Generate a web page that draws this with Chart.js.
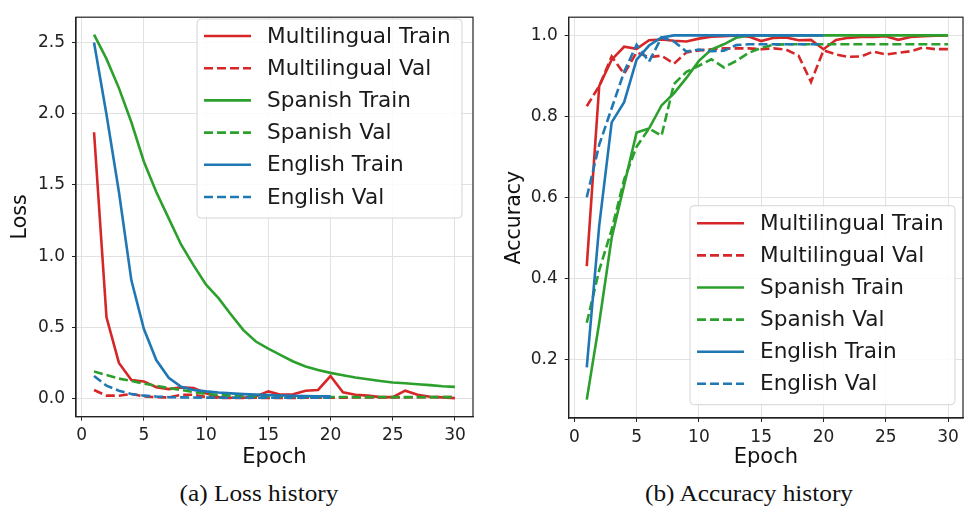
<!DOCTYPE html>
<html>
<head>
<meta charset="utf-8">
<script src="https://cdn.jsdelivr.net/npm/chart.js@4.4.1/dist/chart.umd.min.js"></script>
<style>
  body { margin: 0; background: #fff; width: 965px; height: 513px; overflow: hidden; position: relative; }
  .box { position: absolute; top: 0; height: 470px; }
  .caption { position: absolute; top: 481px; font-family: 'Liberation Serif', serif; font-size: 23px; color: #111; transform: translateX(-50%) scaleX(1.1); white-space: nowrap; }
</style>
</head>
<body>
<div class="box" style="left:0; width:480px;"><canvas id="lossChart"></canvas></div>
<div class="box" style="left:490px; width:475px;"><canvas id="accChart"></canvas></div>
<div class="caption" style="left:259px;">(a) Loss history</div>
<div class="caption" style="left:749px;">(b) Accuracy history</div>
<script>
// epochs
const epochs30 = [1, 2, 3, 4, 5, 6, 7, 8, 9, 10, 11, 12, 13, 14, 15, 16, 17, 18, 19, 20, 21, 22, 23, 24, 25, 26, 27, 28, 29, 30];
const epochs20 = [1, 2, 3, 4, 5, 6, 7, 8, 9, 10, 11, 12, 13, 14, 15, 16, 17, 18, 19, 20];
const xTicks = [0, 5, 10, 15, 20, 25, 30];
const lossTicks = [0, 0.5, 1.0, 1.5, 2.0, 2.5];
const accTicks = [0.2, 0.4, 0.6, 0.8, 1.0];
const seriesNames = ['Multilingual Train', 'Multilingual Val', 'Spanish Train', 'Spanish Val', 'English Train', 'English Val'];

// loss history
const lossMultiTrain = [1.87, 0.57, 0.25, 0.13, 0.12, 0.08, 0.066, 0.078, 0.073, 0.037, 0.01, 0.005, 0.005, 0.014, 0.05, 0.027, 0.03, 0.055, 0.06, 0.158, 0.043, 0.027, 0.02, 0.01, 0.01, 0.055, 0.027, 0.012, 0.008, 0.003];
const lossMultiVal = [0.06, 0.02, 0.02, 0.032, 0.014, 0.009, 0.008, 0.025, 0.027, 0.01, 0.005, 0.004, 0.004, 0.005, 0.004, 0.005, 0.004, 0.005, 0.005, 0.006, 0.006, 0.007, 0.007, 0.008, 0.008, 0.008, 0.009, 0.009, 0.01, 0.01];
const lossSpanishTrain = [2.555, 2.385, 2.18, 1.94, 1.665, 1.45, 1.265, 1.08, 0.935, 0.8, 0.705, 0.59, 0.48, 0.4, 0.35, 0.305, 0.26, 0.225, 0.2, 0.18, 0.163, 0.147, 0.135, 0.123, 0.112, 0.107, 0.1, 0.094, 0.086, 0.082];
const lossSpanishVal = [0.19, 0.165, 0.14, 0.123, 0.105, 0.09, 0.073, 0.06, 0.045, 0.033, 0.025, 0.02, 0.017, 0.015, 0.014, 0.013, 0.012, 0.012, 0.011, 0.011, 0.011, 0.01, 0.01, 0.01, 0.01, 0.01, 0.01, 0.01, 0.01, 0.01];
const lossEnglishTrain = [2.5, 1.995, 1.45, 0.83, 0.49, 0.27, 0.146, 0.082, 0.06, 0.05, 0.042, 0.036, 0.031, 0.027, 0.024, 0.021, 0.019, 0.017, 0.016, 0.015];
const lossEnglishVal = [0.158, 0.09, 0.055, 0.032, 0.02, 0.014, 0.01, 0.008, 0.007, 0.006, 0.006, 0.005, 0.005, 0.005, 0.005, 0.005, 0.005, 0.005, 0.005, 0.005];

// accuracy history
const accMultiTrain = [0.43, 0.875, 0.94, 0.972, 0.967, 0.988, 0.99, 0.987, 0.985, 0.992, 0.997, 0.998, 1.0, 0.997, 0.986, 0.994, 0.995, 0.988, 0.989, 0.966, 0.989, 0.994, 0.996, 0.996, 0.998, 0.989, 0.996, 0.998, 0.999, 1.0];
const accMultiVal = [0.825, 0.875, 0.948, 0.905, 0.958, 0.946, 0.95, 0.93, 0.958, 0.963, 0.966, 0.968, 0.968, 0.968, 0.966, 0.968, 0.965, 0.95, 0.885, 0.963, 0.953, 0.947, 0.948, 0.96, 0.953, 0.957, 0.961, 0.97, 0.966, 0.966];
const accSpanishTrain = [0.1, 0.29, 0.5, 0.63, 0.76, 0.77, 0.827, 0.857, 0.895, 0.937, 0.965, 0.978, 0.994, 1.0, 1.0, 1.0, 1.0, 1.0, 1.0, 1.0, 1.0, 1.0, 1.0, 1.0, 1.0, 1.0, 1.0, 1.0, 1.0, 1.0];
const accSpanishVal = [0.29, 0.42, 0.52, 0.644, 0.725, 0.77, 0.752, 0.88, 0.91, 0.925, 0.941, 0.921, 0.937, 0.957, 0.969, 0.977, 0.978, 0.978, 0.978, 0.978, 0.978, 0.978, 0.978, 0.978, 0.978, 0.978, 0.978, 0.978, 0.978, 0.978];
const accEnglishTrain = [0.18, 0.53, 0.785, 0.835, 0.94, 0.975, 0.995, 1.0, 1.0, 1.0, 1.0, 1.0, 1.0, 1.0, 1.0, 1.0, 1.0, 1.0, 1.0, 1.0];
const accEnglishVal = [0.6, 0.73, 0.82, 0.91, 0.977, 0.935, 0.995, 0.985, 0.96, 0.965, 0.961, 0.962, 0.976, 0.978, 0.978, 0.978, 0.978, 0.978, 0.978, 0.978];

const RED = '#d62728', GREEN = '#2ca02c', BLUE = '#1f77b4';
const colors = [RED, RED, GREEN, GREEN, BLUE, BLUE];

Chart.defaults.font.family = "'DejaVu Sans', sans-serif";
Chart.defaults.color = '#222';
Chart.defaults.animation = false;

function pts(xs, ys) {
    return ys.map((y, i) => ({ x: xs[i], y: y }));
}

function makeDatasets(series) {
    return series.map((s, i) => ({
        label: seriesNames[i],
        data: pts(s.length === 30 ? epochs30 : epochs20, s),
        borderColor: colors[i],
        backgroundColor: colors[i],
        borderWidth: 2.6,
        borderDash: i % 2 === 1 ? [9, 4] : [],
        pointRadius: 0,
        tension: 0,
        fill: false,
        order: 5 - i
    }));
}

// frame around the plot area (like matplotlib spines)
const framePlugin = {
    id: 'frame',
    afterDatasetsDraw(chart) {
        const a = chart.chartArea, ctx = chart.ctx;
        ctx.save();
        ctx.strokeStyle = '#222';
        ctx.lineWidth = 1.2;
        ctx.strokeRect(a.left, a.top, a.right - a.left, a.bottom - a.top);
        ctx.restore();
    }
};

// legend box drawn inside the axes
const boxLegend = {
    id: 'boxLegend',
    afterDraw(chart, args, opts) {
        const ctx = chart.ctx;
        ctx.save();
        ctx.beginPath();
        ctx.roundRect(opts.x, opts.y, opts.w, opts.h, 4);
        ctx.fillStyle = 'rgba(255,255,255,0.85)';
        ctx.fill();
        ctx.strokeStyle = '#d4d4d4';
        ctx.lineWidth = 1;
        ctx.stroke();
        chart.data.datasets.forEach((ds, i) => {
            const y = opts.y + opts.first + i * opts.step;
            ctx.beginPath();
            ctx.setLineDash(ds.borderDash);
            ctx.strokeStyle = ds.borderColor;
            ctx.lineWidth = ds.borderWidth;
            ctx.moveTo(opts.x + 7, y);
            ctx.lineTo(opts.x + 54, y);
            ctx.stroke();
            ctx.setLineDash([]);
            ctx.fillStyle = '#1a1a1a';
            ctx.font = "21.6px 'DejaVu Sans'";
            ctx.textBaseline = 'middle';
            ctx.fillText(ds.label, opts.x + 70, y + 1);
        });
        ctx.restore();
    }
};

function makeChart(id, series, cfg) {
    return new Chart(document.getElementById(id), {
        type: 'line',
        data: { datasets: makeDatasets(series) },
        plugins: [framePlugin, boxLegend],
        options: {
            responsive: true,
            maintainAspectRatio: false,
            layout: { padding: { top: 7, right: cfg.padRight, left: 0, bottom: 0 } },
            plugins: {
                legend: { display: false },
                tooltip: { enabled: false },
                boxLegend: cfg.legend
            },
            scales: {
                x: {
                    type: 'linear',
                    min: -0.45,
                    max: cfg.xMax,
                    afterBuildTicks: axis => { axis.ticks = xTicks.map(v => ({ value: v })); },
                    afterFit: axis => { axis.height = cfg.xAxisHeight; },
                    ticks: { font: { size: 17 }, padding: 5, maxRotation: 0, color: '#222' },
                    grid: { color: '#e2e2e2', lineWidth: 1, tickLength: 4, tickColor: '#222' },
                    border: { color: '#222', width: 1.2 },
                    title: { display: true, text: 'Epoch', font: { size: 21 }, color: '#111', padding: { top: 0, bottom: 0 } }
                },
                y: {
                    type: 'linear',
                    min: cfg.yMin,
                    max: cfg.yMax,
                    afterBuildTicks: axis => { axis.ticks = cfg.yTicks.map(v => ({ value: v })); },
                    afterFit: axis => { axis.width = cfg.yAxisWidth; },
                    ticks: { font: { size: 17 }, padding: 7, color: '#222', callback: v => v.toFixed(1) },
                    grid: { color: '#e2e2e2', lineWidth: 1, tickLength: 4, tickColor: '#222' },
                    border: { color: '#222', width: 1.2 },
                    title: { display: true, text: cfg.yTitle, font: { size: 20.5 }, color: '#111', padding: { top: cfg.yTitlePad, bottom: 0 } }
                }
            }
        }
    });
}

makeChart('lossChart',
    [lossMultiTrain, lossMultiVal, lossSpanishTrain, lossSpanishVal, lossEnglishTrain, lossEnglishVal],
    {
        xMax: 31.45, yMin: -0.127, yMax: 2.678, yTicks: lossTicks, yTitle: 'Loss',
        yAxisWidth: 76, xAxisHeight: 53.4, padRight: 7, yTitlePad: 8,
        legend: { x: 197, y: 19, w: 265, h: 199, first: 17, step: 32.2 }
    });

makeChart('accChart',
    [accMultiTrain, accMultiVal, accSpanishTrain, accSpanishVal, accEnglishTrain, accEnglishVal],
    {
        xMax: 31.2, yMin: 0.0547, yMax: 1.045, yTicks: accTicks, yTitle: 'Accuracy',
        yAxisWidth: 78.7, xAxisHeight: 52, padRight: 2, yTitlePad: 12,
        legend: { x: 200, y: 205.7, w: 265, h: 199, first: 17.6, step: 32.1 }
    });
</script>
</body>
</html>
